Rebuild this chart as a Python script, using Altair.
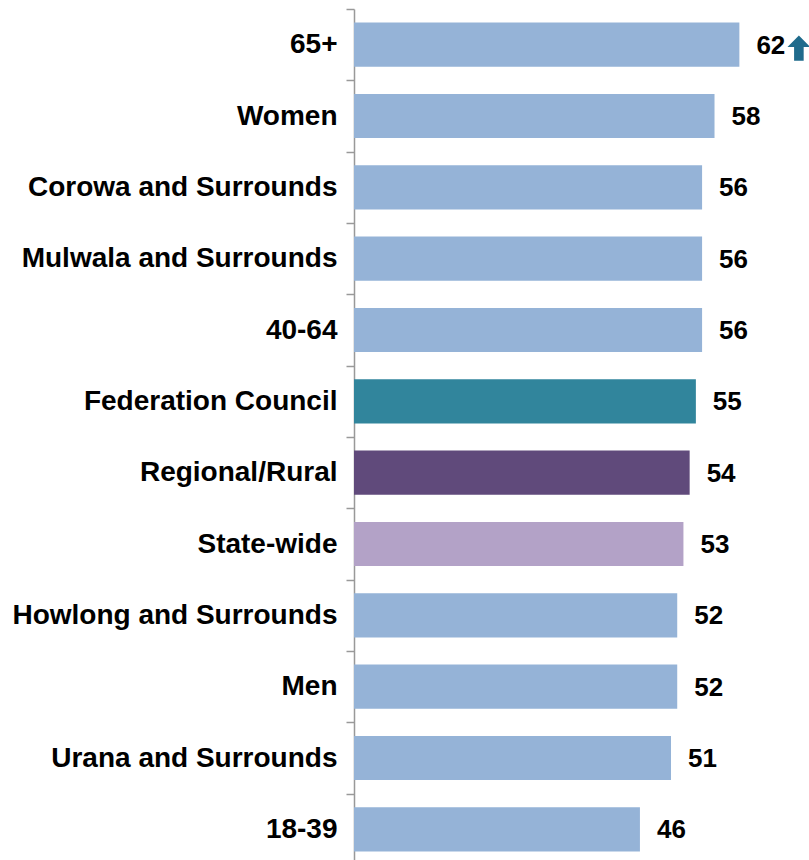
import altair as alt
import pandas as pd

categories = ["65+", "Women", "Corowa and Surrounds", "Mulwala and Surrounds", "40-64",
              "Federation Council", "Regional/Rural", "State-wide", "Howlong and Surrounds",
              "Men", "Urana and Surrounds", "18-39"]
values = [62, 58, 56, 56, 56, 55, 54, 53, 52, 52, 51, 46]
bar_colors = ["#95B3D7", "#95B3D7", "#95B3D7", "#95B3D7", "#95B3D7", "#31859C",
              "#604A7B", "#B3A2C7", "#95B3D7", "#95B3D7", "#95B3D7", "#95B3D7"]
significance = ["up", "", "", "", "", "", "", "", "", "", "", ""]

df = pd.DataFrame({"label": categories, "value": values, "color": bar_colors, "sig": significance})

FONT = "Liberation Sans"

base = alt.Chart(df).encode(
    y=alt.Y("label:N", sort=categories,
            scale=alt.Scale(paddingInner=0, paddingOuter=0),
            axis=alt.Axis(title=None, tickBand="extent", domainColor="#999999", domainWidth=1.5,
                          tickColor="#999999", tickWidth=1.5, tickSize=8,
                          labelFont=FONT, labelFontWeight="bold", labelFontSize=28,
                          labelColor="black", labelPadding=9, labelLimit=500)),
    x=alt.X("value:Q", scale=alt.Scale(domain=[0, 73.2]), axis=None),
)

bars = base.mark_bar(height={"band": 0.62}).encode(color=alt.Color("color:N", scale=None))

labels = base.mark_text(align="left", baseline="middle", dx=17, dy=1, font=FONT, fontWeight="bold",
                        fontSize=26, color="black").encode(text="value:Q")

arrow_path = "M0,-1.1 L1,-0.1 L0.42,-0.1 L0.42,1.1 L-0.42,1.1 L-0.42,-0.1 L-1,-0.1 Z"
arrows = base.transform_filter(alt.datum.sig == "up").mark_point(
    shape=arrow_path, filled=True, size=520, color="#1F6B8C", opacity=1,
    xOffset=59.5, yOffset=3.5, strokeWidth=0)

chart = alt.layer(bars, labels, arrows).properties(
    width=455, height=856,
    autosize=alt.AutoSizeParams(type="none"),
    padding={"left": 354, "top": 9, "right": 0, "bottom": 0},
).configure_view(stroke=None)

chart.save("out.html", embed_options={"renderer": "svg", "actions": False})
